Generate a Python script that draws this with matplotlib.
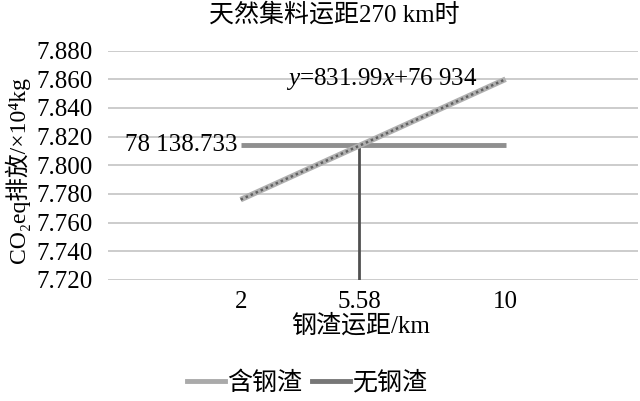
"""Steel slag transport distance vs CO2eq emission (break-even chart)."""

import matplotlib
matplotlib.use("Agg")
import matplotlib.pyplot as plt

# data
x_with_slag = [2, 10]
y_with_slag = [7.776, 7.860]
x_without_slag = [2, 10]
y_without_slag = [7.8139, 7.8139]
x_cross = 5.58
y_cross = 7.8139
x_ticks = [2, 5.58, 10]
x_tick_labels = ["2", "5.58", "10"]
y_ticks = [7.72, 7.74, 7.76, 7.78, 7.80, 7.82, 7.84, 7.86, 7.88]

plt.rcParams["font.family"] = ["Liberation Serif", "Noto Sans CJK SC"]
plt.rcParams["mathtext.fontset"] = "custom"
plt.rcParams["mathtext.rm"] = "Liberation Serif"
plt.rcParams["mathtext.it"] = "Liberation Serif:italic"
plt.rcParams["font.size"] = 18

fig = plt.figure(figsize=(6.4, 4.01), dpi=100)
ax = fig.add_axes([0.169, 0.302, 0.828, 0.572])

ax.set_xlim(-2, 14)
ax.set_ylim(7.72, 7.88)
ax.set_yticks(y_ticks)
ax.set_yticklabels([f"{v:.3f}" for v in y_ticks])
ax.set_xticks(x_ticks)
ax.set_xticklabels(x_tick_labels)
ax.tick_params(axis="both", length=0, colors="black")
ax.tick_params(axis="y", pad=11)
ax.tick_params(axis="x", pad=8)
ax.grid(axis="y", color="#c8c8c8", linewidth=1.3)
ax.set_axisbelow(True)
for spine in ax.spines.values():
    spine.set_visible(False)

# with slag: gray line with darker dotted texture
ax.plot(x_with_slag, y_with_slag, color="#b0b0b0", linewidth=4, solid_capstyle="butt", zorder=3)
ax.plot(x_with_slag, y_with_slag, color="#606060", linewidth=1.8,
        linestyle=(0, (1, 1.2)), zorder=4)
# without slag: flat line
ax.plot(x_without_slag, y_without_slag, color="#8f8f8f", linewidth=3.5,
        solid_capstyle="butt", zorder=2)
# vertical marker at the crossing distance
ax.plot([x_cross, x_cross], [7.72, y_cross], color="#505050", linewidth=2, zorder=2)

ax.text(1.9, y_cross, "78 138.733", ha="right", va="center")
ax.text(9.16, 7.860, r"$y$=831.99$x$+76 934", ha="right", va="center")

ax.set_xlabel("钢渣运距/km")
ax.xaxis.set_label_coords(0.477, -0.15)
ax.set_ylabel("CO₂eq排放/×10⁴kg", fontsize=17)
ax.yaxis.set_label_coords(-0.147, 0.48)

fig.text(0.523, 0.962, "天然集料运距270 km时", ha="center", va="center")

h1, = ax.plot([], [], color="#aaaaaa", linewidth=3.5)
h2, = ax.plot([], [], color="#777777", linewidth=3.5)
fig.legend([h1, h2], ["含钢渣", "无钢渣"], loc="center", bbox_to_anchor=(0.48, 0.045),
           ncol=2, frameon=False, handlelength=1.5, handletextpad=0.1, columnspacing=0.4)

fig.savefig("out.png", dpi=100)
